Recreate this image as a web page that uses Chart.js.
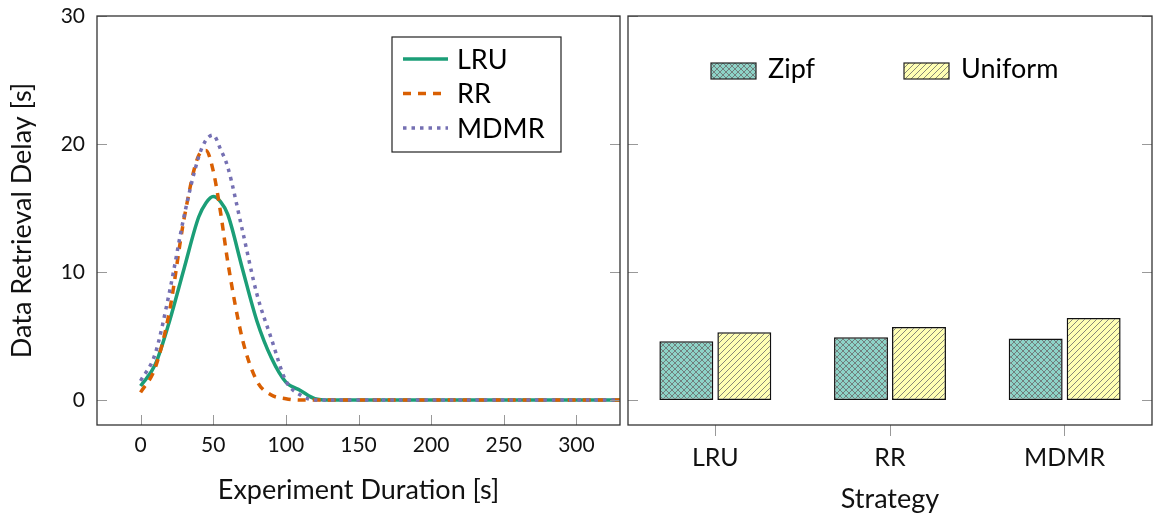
<!DOCTYPE html>
<html>
<head>
<meta charset="utf-8">
<script src="https://cdn.jsdelivr.net/npm/chart.js@4.4.1/dist/chart.umd.min.js"></script>
<style>
  body { margin: 0; background: #fff; }
  #wrap { position: relative; width: 1153px; height: 515px; }
  canvas { position: absolute; top: 0; }
  #lineChart { left: 0; }
  #barChart { left: 624px; }
</style>
</head>
<body>
<div id="wrap">
  <canvas id="lineChart" width="624" height="515"></canvas>
  <canvas id="barChart" width="529" height="515"></canvas>
</div>
<script>
// valores
const durations = [0, 10, 20, 30, 40, 45, 50, 55, 60, 70, 80, 90, 100, 110, 120, 130, 200, 330];
const lruDelay  = [1.1, 2.75, 6.2, 10.3, 14.3, 15.4, 15.9, 15.5, 14.5, 10.3, 6.2, 3.3, 1.4, 0.75, 0.1, 0, 0, 0];
const rrDelay   = [0.6, 2.5, 7.0, 14.2, 19.1, 19.5, 17.9, 14.7, 10.8, 4.8, 1.5, 0.4, 0.1, 0, 0, 0, 0, 0];
const mdmrDelay = [1.5, 3.6, 8.5, 14.4, 19.0, 20.3, 20.7, 19.6, 18.2, 13.3, 8.3, 4.8, 1.5, 0.4, 0, 0, 0, 0];

const strategies = ['LRU', 'RR', 'MDMR'];
const zipfDelay = [4.6, 4.9, 4.8];
const uniformDelay = [5.3, 5.7, 6.4];

const xTicks = [0, 50, 100, 150, 200, 250, 300];
const yTicks = [0, 10, 20, 30];

Chart.defaults.font.family = 'Lato';
Chart.defaults.color = '#111';

const toPoints = (vals) => durations.map((t, i) => ({ x: t, y: vals[i] }));

// hachuras das barras
function makePattern(bg, cross) {
  const c = document.createElement('canvas');
  c.width = c.height = 6;
  const g = c.getContext('2d');
  g.fillStyle = bg;
  g.fillRect(0, 0, 6, 6);
  g.strokeStyle = '#6a6a6a';
  g.lineWidth = 0.8;
  g.beginPath();
  g.moveTo(0, 6); g.lineTo(6, 0);
  g.moveTo(-1, 1); g.lineTo(1, -1);
  g.moveTo(5, 7); g.lineTo(7, 5);
  if (cross) {
    g.moveTo(0, 0); g.lineTo(6, 6);
    g.moveTo(-1, 5); g.lineTo(1, 7);
    g.moveTo(5, -1); g.lineTo(7, 1);
  }
  g.stroke();
  return g.createPattern(c, 'repeat');
}
const zipfFill = makePattern('#8dd3c7', true);
const uniformFill = makePattern('#ffffb3', false);

// moldura + ticks para dentro (estilo pgfplots)
const frame = {
  id: 'frame',
  afterDatasetsDraw(chart, args, opts) {
    const { ctx, chartArea: a, scales } = chart;
    const line = (x1, y1, x2, y2) => { ctx.beginPath(); ctx.moveTo(x1, y1); ctx.lineTo(x2, y2); ctx.stroke(); };
    ctx.save();
    ctx.strokeStyle = '#999';
    ctx.lineWidth = 1;
    yTicks.forEach(v => {
      const py = Math.round(scales.y.getPixelForValue(v)) + 0.5;
      line(a.left, py, a.left + 10, py);
      line(a.right - 10, py, a.right, py);
    });
    if (opts.xTicks) {
      xTicks.forEach(v => {
        const px = Math.round(scales.x.getPixelForValue(v)) + 0.5;
        line(px, a.bottom - 10, px, a.bottom);
      });
    }
    ctx.strokeStyle = '#333';
    ctx.lineWidth = 1.3;
    ctx.strokeRect(a.left, a.top, a.right - a.left, a.bottom - a.top);
    ctx.restore();
  }
};

const lineLegend = {
  id: 'lineLegend',
  afterDraw(chart) {
    const ctx = chart.ctx;
    ctx.save();
    ctx.fillStyle = '#fff';
    ctx.strokeStyle = '#222';
    ctx.lineWidth = 1.2;
    ctx.fillRect(392, 37, 169, 115);
    ctx.strokeRect(392, 37, 169, 115);
    chart.data.datasets.forEach((ds, i) => {
      const y = 59 + i * 34.5;
      ctx.strokeStyle = ds.borderColor;
      ctx.lineWidth = ds.borderWidth;
      ctx.setLineDash(ds.borderDash || []);
      ctx.beginPath(); ctx.moveTo(403, y); ctx.lineTo(448, y); ctx.stroke();
      ctx.setLineDash([]);
      ctx.fillStyle = '#000';
      ctx.font = '27px Lato';
      ctx.textBaseline = 'middle';
      ctx.fillText(ds.label, 457, y + 1);
    });
    ctx.restore();
  }
};

const barLegend = {
  id: 'barLegend',
  afterDraw(chart) {
    const ctx = chart.ctx;
    const left = chart.chartArea.left;
    ctx.save();
    chart.data.datasets.forEach((ds, i) => {
      const x = left + 83 + i * 193;
      ctx.fillStyle = ds.backgroundColor;
      ctx.fillRect(x, 63, 45, 16);
      ctx.strokeStyle = '#222';
      ctx.lineWidth = 1.2;
      ctx.strokeRect(x, 63, 45, 16);
      ctx.fillStyle = '#000';
      ctx.font = '27px Lato';
      ctx.textBaseline = 'middle';
      ctx.fillText(ds.label, x + 57, 69);
    });
    ctx.restore();
  }
};

// o eixo y não deve empurrar a área do gráfico por causa dos rótulos
const noScalePadding = s => { s.paddingTop = 0; s.paddingBottom = 0; };

new Chart(document.getElementById('lineChart').getContext('2d'), {
  type: 'line',
  data: {
    datasets: [
      { label: 'LRU', data: toPoints(lruDelay), borderColor: '#1b9e77', borderWidth: 3.5, order: 3 },
      { label: 'RR', data: toPoints(rrDelay), borderColor: '#d95f02', borderWidth: 3.5, borderDash: [8, 7], order: 2 },
      { label: 'MDMR', data: toPoints(mdmrDelay), borderColor: '#7570b3', borderWidth: 3.5, borderDash: [3.5, 5], order: 1 }
    ]
  },
  options: {
    responsive: false,
    animation: false,
    layout: { padding: { top: 16, right: 4, left: 0, bottom: 0 } },
    elements: {
      point: { radius: 0 },
      line: { cubicInterpolationMode: 'monotone', fill: false }
    },
    plugins: {
      legend: { display: false },
      tooltip: { enabled: false },
      frame: { xTicks: true }
    },
    scales: {
      x: {
        type: 'linear',
        min: -30,
        max: 330,
        afterBuildTicks: s => { s.ticks = xTicks.map(v => ({ value: v })); },
        afterFit: s => { s.height = 90; },
        grid: { display: false, drawTicks: false },
        border: { display: false },
        ticks: { font: { size: 21 }, padding: 8 },
        title: { display: true, text: 'Experiment Duration [s]', font: { size: 27 }, padding: { top: 0, bottom: 9 } }
      },
      y: {
        min: -1.95,
        max: 30,
        afterBuildTicks: s => { s.ticks = yTicks.map(v => ({ value: v })); },
        afterFit: s => { s.width = 97; noScalePadding(s); },
        grid: { display: false, drawTicks: false },
        border: { display: false },
        ticks: { font: { size: 21 }, padding: 12 },
        title: { display: true, text: 'Data Retrieval Delay [s]', font: { size: 27 }, padding: { top: 6, bottom: 0 } }
      }
    }
  },
  plugins: [frame, lineLegend]
});

new Chart(document.getElementById('barChart').getContext('2d'), {
  type: 'bar',
  data: {
    labels: strategies,
    datasets: [
      { label: 'Zipf', data: zipfDelay, backgroundColor: zipfFill },
      { label: 'Uniform', data: uniformDelay, backgroundColor: uniformFill }
    ]
  },
  options: {
    responsive: false,
    animation: false,
    layout: { padding: { top: 16, right: 1, left: 4, bottom: 0 } },
    elements: {
      bar: { borderColor: '#111', borderWidth: 1.5, borderSkipped: false }
    },
    datasets: {
      bar: { categoryPercentage: 0.664, barPercentage: 0.93 }
    },
    plugins: {
      legend: { display: false },
      tooltip: { enabled: false },
      frame: { xTicks: false }
    },
    scales: {
      x: {
        afterFit: s => { s.height = 90; },
        grid: { display: true, drawOnChartArea: false, drawTicks: true, tickLength: 11, color: '#999', offset: false },
        border: { display: false },
        ticks: { font: { size: 25 }, padding: 7 },
        title: { display: true, text: 'Strategy', font: { size: 27 }, padding: { top: 0, bottom: 0 } }
      },
      y: {
        display: false,
        min: -1.95,
        max: 30
      }
    }
  },
  plugins: [frame, barLegend]
});
</script>
</body>
</html>
